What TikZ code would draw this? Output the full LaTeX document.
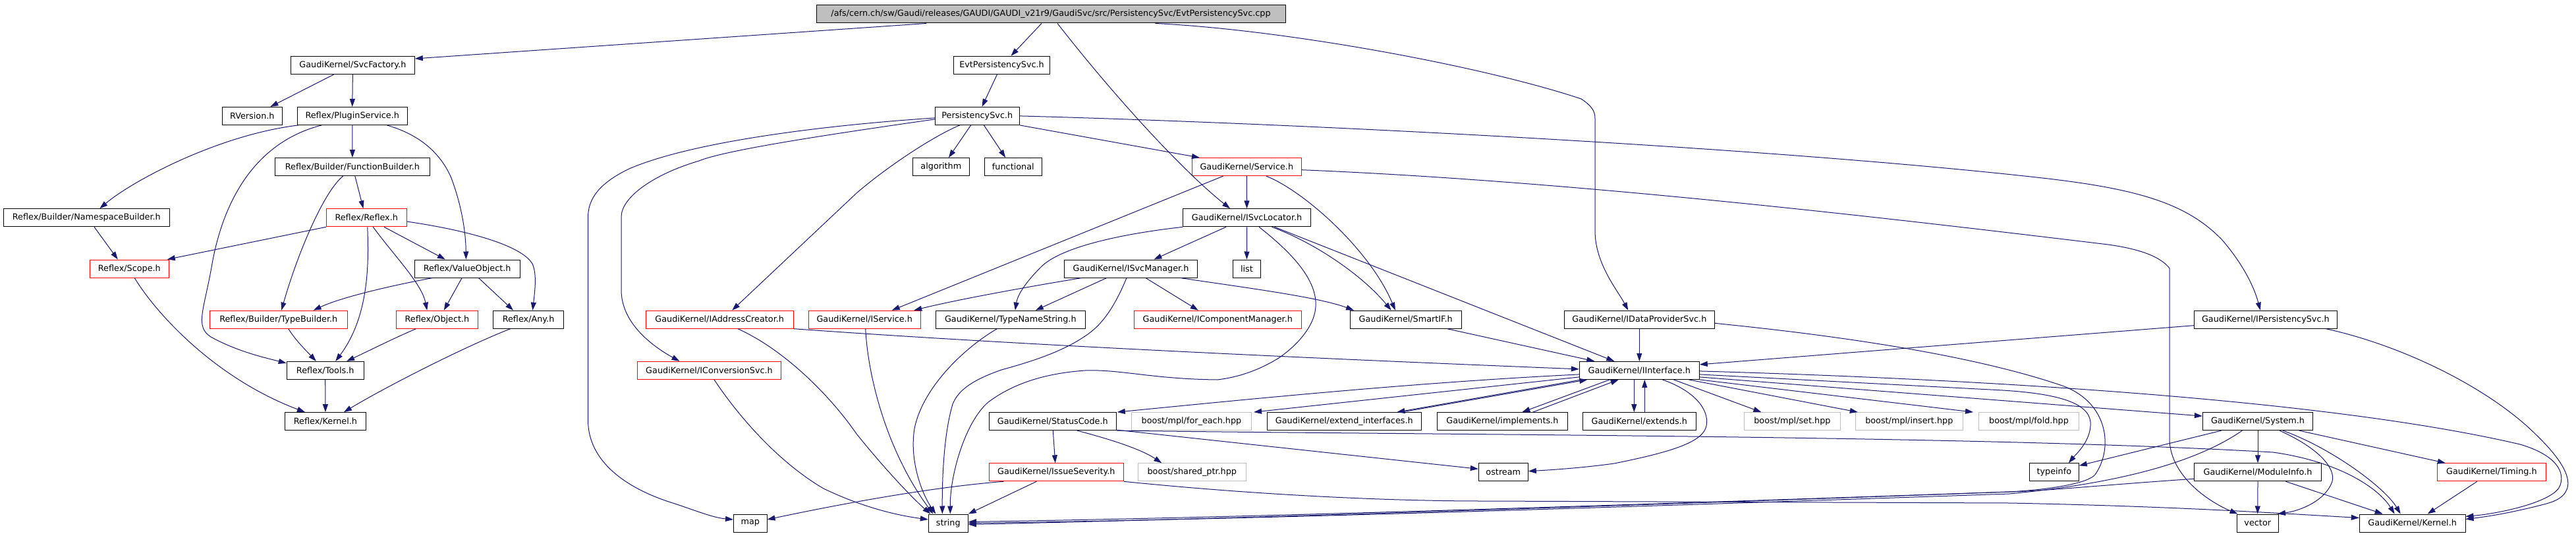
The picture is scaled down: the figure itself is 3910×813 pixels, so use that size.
\documentclass[tikz,border=0pt]{standalone}
\usepackage{fontspec}
\setmainfont{DejaVu Sans}
\usetikzlibrary{arrows.meta}
\definecolor{edgec}{HTML}{191970}
\definecolor{grayfill}{HTML}{BFBFBF}
\definecolor{grayline}{HTML}{BFBFBF}
\tikzset{
  nd/.style={draw=black, line width=1pt, fill=white, minimum height=27pt, inner sep=0pt, font=\fontsize{12.8pt}{15pt}\selectfont},
  rnd/.style={nd, draw=red},
  gnd/.style={nd, draw=grayline},
  tnd/.style={nd, fill=grayfill},
  edg/.style={draw=edgec, line width=1pt, -{Triangle[length=12pt,width=8pt]}},
}
\begin{document}
\begin{tikzpicture}[x=1pt,y=-1pt]
\useasboundingbox[fill=white] (0,0) rectangle (3910,813);
% nodes
\node[tnd, minimum width=712pt] (top) at (1595,21.5) {/afs/cern.ch/sw/Gaudi/releases/GAUDI/GAUDI\_v21r9/GaudiSvc/src/PersistencySvc/EvtPersistencySvc.cpp};
\node[nd, minimum width=187.8pt] (svcfactory) at (535.4,98.7) {GaudiKernel/SvcFactory.h};
\node[nd, minimum width=146.1pt] (evtps) at (1520.55,98.7) {EvtPersistencySvc.h};
\node[nd, minimum width=90.5pt] (rversion) at (382.85,175.9) {RVersion.h};
\node[nd, minimum width=167.1pt] (plugin) at (534.75,175.9) {Reflex/PluginService.h};
\node[nd, minimum width=128pt] (persist) at (1483.3,175.9) {PersistencySvc.h};
\node[nd, minimum width=234.9pt] (funcbuilder) at (534.95,253.1) {Reflex/Builder/FunctionBuilder.h};
\node[nd, minimum width=86.3pt] (algorithm) at (1428.35,253.1) {algorithm};
\node[nd, minimum width=87.2pt] (functional) at (1537.8,253.1) {functional};
\node[rnd, minimum width=166.6pt] (service) at (1892.3,253.1) {GaudiKernel/Service.h};
\node[nd, minimum width=251.7pt] (nsbuilder) at (131.35,330.3) {Reflex/Builder/NamespaceBuilder.h};
\node[rnd, minimum width=121.7pt] (reflex) at (556.25,330.3) {Reflex/Reflex.h};
\node[nd, minimum width=193.9pt] (svclocator) at (1892.55,330.3) {GaudiKernel/ISvcLocator.h};
\node[rnd, minimum width=119.9pt] (scope) at (196.35,407.5) {Reflex/Scope.h};
\node[nd, minimum width=159.7pt] (valueobject) at (709.15,407.5) {Reflex/ValueObject.h};
\node[nd, minimum width=202pt] (svcmanager) at (1716.5,407.5) {GaudiKernel/ISvcManager.h};
\node[nd, minimum width=42.1pt] (list) at (1892.45,407.5) {list};
\node[rnd, minimum width=209.2pt] (typebuilder) at (422.8,484.7) {Reflex/Builder/TypeBuilder.h};
\node[rnd, minimum width=123.9pt] (object) at (663.45,484.7) {Reflex/Object.h};
\node[nd, minimum width=106.9pt] (any) at (802.05,484.7) {Reflex/Any.h};
\node[rnd, minimum width=224.4pt] (addrcreator) at (1092.2,484.7) {GaudiKernel/IAddressCreator.h};
\node[rnd, minimum width=170.4pt] (iservice) at (1312.2,484.7) {GaudiKernel/IService.h};
\node[nd, minimum width=227pt] (typename) at (1533.8,484.7) {GaudiKernel/TypeNameString.h};
\node[rnd, minimum width=254.3pt] (compmgr) at (1848.3,484.7) {GaudiKernel/IComponentManager.h};
\node[nd, minimum width=169.3pt] (smartif) at (2133.65,484.7) {GaudiKernel/SmartIF.h};
\node[nd, minimum width=228pt] (dataprov) at (2488.3,484.7) {GaudiKernel/IDataProviderSvc.h};
\node[nd, minimum width=216.9pt] (ipersist) at (3438.85,484.7) {GaudiKernel/IPersistencySvc.h};
\node[nd, minimum width=117pt] (tools) at (493.7,561.9) {Reflex/Tools.h};
\node[rnd, minimum width=218pt] (convsvc) at (1076.5,561.9) {GaudiKernel/IConversionSvc.h};
\node[nd, minimum width=182pt] (iinterface) at (2488.3,561.9) {GaudiKernel/IInterface.h};
\node[nd, minimum width=123.3pt] (rkernel) at (493.95,639.1) {Reflex/Kernel.h};
\node[nd, minimum width=193pt] (statuscode) at (1597.8,639.1) {GaudiKernel/StatusCode.h};
\node[gnd, minimum width=182pt] (foreach) at (1808.5,639.1) {boost/mpl/for\_each.hpp};
\node[nd, minimum width=234pt] (extendif) at (2040.3,639.1) {GaudiKernel/extend\_interfaces.h};
\node[nd, minimum width=198.3pt] (implements) at (2280.35,639.1) {GaudiKernel/implements.h};
\node[nd, minimum width=172pt] (extends) at (2488.3,639.1) {GaudiKernel/extends.h};
\node[gnd, minimum width=145.8pt] (mplset) at (2720.4,639.1) {boost/mpl/set.hpp};
\node[gnd, minimum width=163pt] (mplinsert) at (2897.8,639.1) {boost/mpl/insert.hpp};
\node[gnd, minimum width=152.4pt] (mplfold) at (3079.5,639.1) {boost/mpl/fold.hpp};
\node[nd, minimum width=167.2pt] (system) at (3427,639.1) {GaudiKernel/System.h};
\node[rnd, minimum width=204pt] (issue) at (1603.3,716.3) {GaudiKernel/IssueSeverity.h};
\node[gnd, minimum width=164pt] (sharedptr) at (1809.3,716.3) {boost/shared\_ptr.hpp};
\node[nd, minimum width=75pt] (ostream) at (2281.8,716.3) {ostream};
\node[nd, minimum width=75pt] (typeinfo) at (3117.8,716.3) {typeinfo};
\node[nd, minimum width=193.4pt] (moduleinfo) at (3427,716.3) {GaudiKernel/ModuleInfo.h};
\node[rnd, minimum width=165pt] (timing) at (3781.85,716.3) {GaudiKernel/Timing.h};
\node[nd, minimum width=50.5pt] (map) at (1138.75,793.5) {map};
\node[nd, minimum width=60pt] (string) at (1439.3,793.5) {string};
\node[nd, minimum width=63.5pt] (vector) at (3426.75,793.5) {vector};
\node[nd, minimum width=160.7pt] (gkernel) at (3661.65,793.5) {GaudiKernel/Kernel.h};
% edges from top
\draw[edg] ([xshift=-189pt]top.south) -- ([yshift=9.7pt]svcfactory.east);
\draw[edg] ([xshift=-14pt]top.south) -- ([xshift=14pt]evtps.north);
\draw[edg] ([xshift=10pt]top.south) .. controls (1700,157) and (1800,263) .. ([xshift=-25.5pt]svclocator.north);
\draw[edg] ([xshift=158.5pt]top.south) .. controls (1950,45) and (2250,100) .. (2400,150) .. controls (2418,162) and (2421,170) .. (2421,180) -- (2421,350) .. controls (2421,400) and (2455,440) .. ([xshift=-17pt]dataprov.north);
% svcfactory
\draw[edg] ([xshift=-28.2pt]svcfactory.south) -- ([xshift=27.5pt]rversion.north);
\draw[edg] (svcfactory.south) -- (plugin.north);
% plugin
\draw[edg] ([xshift=-82pt]plugin.south) .. controls (330,205) and (200,275) .. ([xshift=20pt]nsbuilder.north);
\draw[edg] ([xshift=-46.5pt]plugin.south) .. controls (390,215) and (340,300) .. (322,400) .. controls (310,470) and (295,495) .. (320,511) .. controls (360,533) and (400,542) .. ([yshift=11pt]tools.west);
\draw[edg] (plugin.south) -- (funcbuilder.north);
\draw[edg] ([xshift=52.5pt]plugin.south) .. controls (640,205) and (670,235) .. (685,270) .. controls (700,310) and (707,350) .. ([xshift=-1.8pt]valueobject.north);
% funcbuilder
\draw[edg] ([xshift=-14.3pt]funcbuilder.south) .. controls (490,292) and (450,390) .. ([xshift=4.4pt]typebuilder.north);
\draw[edg] ([xshift=3.9pt]funcbuilder.south) -- ([xshift=-4.8pt]reflex.north);
% nsbuilder
\draw[edg] ([xshift=11.7pt]nsbuilder.south) -- ([xshift=-17.5pt]scope.north);
% reflex
\draw[edg] (reflex.south west) -- ([xshift=-3pt]scope.north east);
\draw[edg] ([xshift=1.5pt]reflex.south) .. controls (560,400) and (560,480) .. ([xshift=15.6pt]tools.north);
\draw[edg] ([xshift=10pt]reflex.south) .. controls (600,390) and (640,430) .. ([xshift=-15.2pt]object.north);
\draw[edg] ([xshift=26.75pt]reflex.south) -- ([xshift=-33.3pt]valueobject.north);
\draw[edg] ([yshift=-5.7pt]reflex.east) .. controls (700,348) and (790,370) .. (808,400) .. controls (815,415) and (812,440) .. ([xshift=6.4pt]any.north);
% scope
\draw[edg] ([xshift=7.8pt]scope.south) .. controls (240,480) and (330,575) .. ([xshift=-31pt]rkernel.north);
% valueobject
\draw[edg] ([xshift=-52.4pt]valueobject.south) .. controls (600,432) and (520,450) .. ([xshift=52.8pt]typebuilder.north);
\draw[edg] ([xshift=-8pt]valueobject.south) -- ([xshift=10.3pt]object.north);
\draw[edg] ([xshift=17.2pt]valueobject.south) -- ([xshift=-23pt]any.north);
% typebuilder, object, any, tools
\draw[edg] ([xshift=14.9pt]typebuilder.south) .. controls (450,518) and (465,532) .. ([xshift=-13.9pt]tools.north);
\draw[edg] ([xshift=-32pt]object.south) .. controls (600,512) and (560,532) .. ([xshift=32.4pt]tools.north);
\draw[edg] ([xshift=-27.4pt]any.south) .. controls (700,528) and (580,590) .. ([xshift=28pt]rkernel.north);
\draw[edg] (tools.south) -- (rkernel.north);
% evtps
\draw[edg] ([xshift=-7pt]evtps.south) -- ([xshift=7.2pt]persist.north);
% persist
\draw[edg] ([yshift=-3pt]persist.west) .. controls (1250,190) and (1050,215) .. (955,256) .. controls (905,280) and (892.5,305) .. (892.5,330) -- (892.5,637) .. controls (892.5,700) and (950,740) .. (1018,762) .. controls (1050,772) and (1080,785) .. ([yshift=5.5pt]map.west);
\draw[edg] ([yshift=-5pt]persist.west) .. controls (1250,205) and (1100,228) .. (1061,244) .. controls (990,265) and (943,300) .. (943,329) -- (943,440) .. controls (943,490) and (990,525) .. ([xshift=-45pt]convsvc.north);
\draw[edg] ([xshift=-9.7pt]persist.south) -- ([xshift=11.6pt]algorithm.north);
\draw[edg] ([xshift=10.1pt]persist.south) -- ([xshift=-11.6pt]functional.north);
\draw[edg] ([xshift=-26.5pt]persist.south) .. controls (1420,205) and (1350,250) .. (1300,293) -- ([xshift=19pt]addrcreator.north);
\draw[edg] (persist.south east) -- ([xshift=-71.4pt]service.north);
\draw[edg] (persist.east) .. controls (2000,188) and (2700,225) .. (3100,270) .. controls (3250,287) and (3320,310) .. (3372,363) .. controls (3400,395) and (3420,430) .. ([xshift=-8pt]ipersist.north);
% service
\draw[edg] (service.south) -- (svclocator.north);
\draw[edg] ([xshift=-35.7pt]service.south) -- ([xshift=41.5pt]iservice.north);
\draw[edg] ([xshift=29.6pt]service.south) .. controls (1980,290) and (2080,380) .. ([xshift=-15.8pt]smartif.north);
\draw[edg] ([yshift=-4.6pt]service.east) .. controls (2400,275) and (2900,335) .. (3200,371) .. controls (3250,378) and (3280,390) .. (3293,407) -- (3293,665) .. controls (3293,720) and (3350,760) .. ([xshift=2pt]vector.north west);
% svclocator
\draw[edg] ([xshift=-31.6pt]svclocator.south) -- ([xshift=34.9pt]svcmanager.north);
\draw[edg] (svclocator.south) -- (list.north);
\draw[edg] (svclocator.south west) .. controls (1700,355) and (1610,375) .. (1580,405) .. controls (1560,425) and (1545,445) .. ([xshift=7pt]typename.north);
\draw[edg] ([xshift=38pt]svclocator.south) .. controls (2000,370) and (2070,420) .. ([xshift=-22pt]smartif.north);
\draw[edg] ([xshift=42pt]svclocator.south) -- ([xshift=-38pt]iinterface.north);
\draw[edg] ([xshift=18.5pt]svclocator.south) .. controls (1950,375) and (2000,420) .. (1997,465) .. controls (1995,500) and (1960,530) .. (1941,543) .. controls (1910,562) and (1880,572) .. (1848,576) .. controls (1750,575) and (1700,560) .. (1647,562) .. controls (1590,566) and (1540,580) .. (1500,610) .. controls (1465,640) and (1442,720) .. ([xshift=3pt]string.north);
% svcmanager
\draw[edg] ([xshift=-74.5pt]svcmanager.south) .. controls (1560,435) and (1450,455) .. ([xshift=75pt]iservice.north);
\draw[edg] ([xshift=-36.6pt]svcmanager.south) -- ([xshift=38pt]typename.north);
\draw[edg] ([xshift=22.3pt]svcmanager.south) -- ([xshift=-29.5pt]compmgr.north);
\draw[edg] ([xshift=74.9pt]svcmanager.south) .. controls (1880,435) and (2000,450) .. ([xshift=-78.6pt]smartif.north);
\draw[edg] ([xshift=-6.5pt]svcmanager.south) .. controls (1690,470) and (1670,495) .. (1646.7,510) .. controls (1610,535) and (1560,550) .. (1520,561) .. controls (1480,575) and (1455,590) .. (1446,613) .. controls (1432,660) and (1430,730) .. ([xshift=-9pt]string.north);
% to string from left cluster
\draw[edg] ([xshift=1.5pt]iservice.south) .. controls (1318,580) and (1350,690) .. ([xshift=-23pt]string.north);
\draw[edg] ([xshift=-20.5pt]typename.south) .. controls (1460,530) and (1400,590) .. (1388,650) .. controls (1380,700) and (1400,750) .. ([xshift=-19pt]string.north);
\draw[edg] ([xshift=27.6pt]addrcreator.south) .. controls (1190,530) and (1260,600) .. (1300,658) .. controls (1350,720) and (1390,760) .. ([xshift=-27pt]string.north);
\draw[edg] (addrcreator.south east) .. controls (1500,520) and (1900,540) .. ([yshift=2pt]iinterface.west);
\draw[edg] ([xshift=7.5pt]convsvc.south) .. controls (1120,630) and (1180,700) .. (1250,741) .. controls (1300,765) and (1350,780) .. ([yshift=5.5pt]string.west);
% dataprov
\draw[edg] (dataprov.south) -- (iinterface.north);
\draw[edg] ([yshift=-5.6pt]dataprov.east) .. controls (2800,510) and (3000,540) .. (3133,586) .. controls (3200,612) and (3208,680) .. (3180,720) .. controls (3170,732) and (3120,742) .. (3050,746) .. controls (2500,765) and (1900,785) .. ([yshift=2pt]string.east);
% ipersist
\draw[edg] ([yshift=-9pt]ipersist.west) -- ([yshift=9pt]iinterface.east);
\draw[edg] ([xshift=91.7pt]ipersist.south) .. controls (3650,525) and (3780,590) .. (3850,660) .. controls (3912,720) and (3910,752) .. (3865,764) .. controls (3820,776) and (3780,783) .. ([yshift=6pt]gkernel.east);
% smartif
\draw[edg] ([xshift=63pt]smartif.south) -- ([xshift=-68pt]iinterface.north);
% iinterface
\draw[edg] ([yshift=-6pt]iinterface.west) .. controls (2150,580) and (1900,605) .. ([xshift=1pt]statuscode.north east);
\draw[edg] ([yshift=-10pt]iinterface.west) -- ([xshift=3pt]foreach.north east);
\draw[edg] ([xshift=-88pt]iinterface.south) -- ([xshift=80pt]extendif.north);
\draw[edg] ([xshift=87pt]extendif.north) -- ([xshift=-79pt]iinterface.south);
\draw[edg] ([xshift=-45pt]iinterface.south) -- ([xshift=30pt]implements.north);
\draw[edg] ([xshift=46.3pt]implements.north) -- ([xshift=-31.6pt]iinterface.south);
\draw[edg] ([xshift=-8pt]iinterface.south) -- ([xshift=-8pt]extends.north);
\draw[edg] ([xshift=8pt]extends.north) -- ([xshift=8pt]iinterface.south);
\draw[edg] ([xshift=52pt]iinterface.south) -- ([xshift=-47pt]mplset.north);
\draw[edg] ([xshift=75pt]iinterface.south) -- ([xshift=-78pt]mplinsert.north);
\draw[edg] (iinterface.south east) -- ([xshift=-84.5pt]mplfold.north);
\draw[edg] ([xshift=35pt]iinterface.south) .. controls (2570,592) and (2595,620) .. (2590,646) .. controls (2585,670) and (2540,685) .. (2450,703) .. controls (2400,710) and (2350,713) .. ([yshift=1.6pt]ostream.east);
\draw[edg] ([yshift=-6pt]iinterface.east) -- (3040,592) .. controls (3120,597) and (3170,610) .. (3173,640) .. controls (3175,668) and (3150,690) .. ([xshift=22pt]typeinfo.north);
\draw[edg] ([yshift=-10pt]iinterface.east) -- ([yshift=8pt]system.west);
\draw[edg] ([yshift=-1pt]iinterface.east) .. controls (2900,572) and (3500,598) .. (3825,674) .. controls (3870,687) and (3895,710) .. (3886,736) .. controls (3878,760) and (3800,778) .. ([yshift=10pt]gkernel.east);
% statuscode
\draw[edg] ([xshift=0.5pt]statuscode.south) -- ([xshift=-1.6pt]issue.north);
\draw[edg] ([xshift=37.2pt]statuscode.south) .. controls (1680,665) and (1730,680) .. ([xshift=-46pt]sharedptr.north);
\draw[edg] ([yshift=1pt]statuscode.south east) -- ([yshift=5pt]ostream.west);
\draw[edg] (statuscode.south east) .. controls (2200,660) and (3000,660) .. (3450,686) .. controls (3550,700) and (3610,740) .. ([xshift=-27pt]gkernel.north);
% issue
\draw[edg] ([xshift=-80pt]issue.south) .. controls (1400,740) and (1250,770) .. ([yshift=5.5pt]map.east);
\draw[edg] ([xshift=-30pt]issue.south) -- (string.north east);
\draw[edg] (issue.south east) .. controls (1900,750) and (2100,760) .. (2250,760) -- (3050,763) .. controls (3300,768) and (3450,778) .. ([yshift=8pt]gkernel.west);
% system
\draw[edg] (system.south) -- (moduleinfo.north);
\draw[edg] ([xshift=-55.3pt]system.south) -- ([yshift=10pt]typeinfo.east);
\draw[edg] ([xshift=-23.7pt]system.south) .. controls (3350,690) and (3250,730) .. (3050,749) .. controls (2500,768) and (1900,788) .. (string.east);
\draw[edg] ([xshift=33pt]system.south) .. controls (3520,680) and (3545,710) .. (3540,730) .. controls (3530,760) and (3490,775) .. ([xshift=-2pt]vector.north east);
\draw[edg] ([xshift=38pt]system.south) .. controls (3540,680) and (3620,740) .. ([xshift=-18pt]gkernel.north);
\draw[edg] ([xshift=62.8pt]system.south) -- ([xshift=-70pt]timing.north);
% moduleinfo
\draw[edg] (moduleinfo.south) -- (vector.north);
\draw[edg] ([xshift=42.4pt]moduleinfo.south) -- ([xshift=-45pt]gkernel.north);
\draw[edg] ([yshift=-10pt]moduleinfo.west) .. controls (3200,735) and (3100,745) .. (3050,746) .. controls (2500,766) and (1900,786) .. ([yshift=-2pt]string.east);
% timing
\draw[edg] ([xshift=-22pt]timing.south) -- ([xshift=23pt]gkernel.north);
\end{tikzpicture}
\end{document}
